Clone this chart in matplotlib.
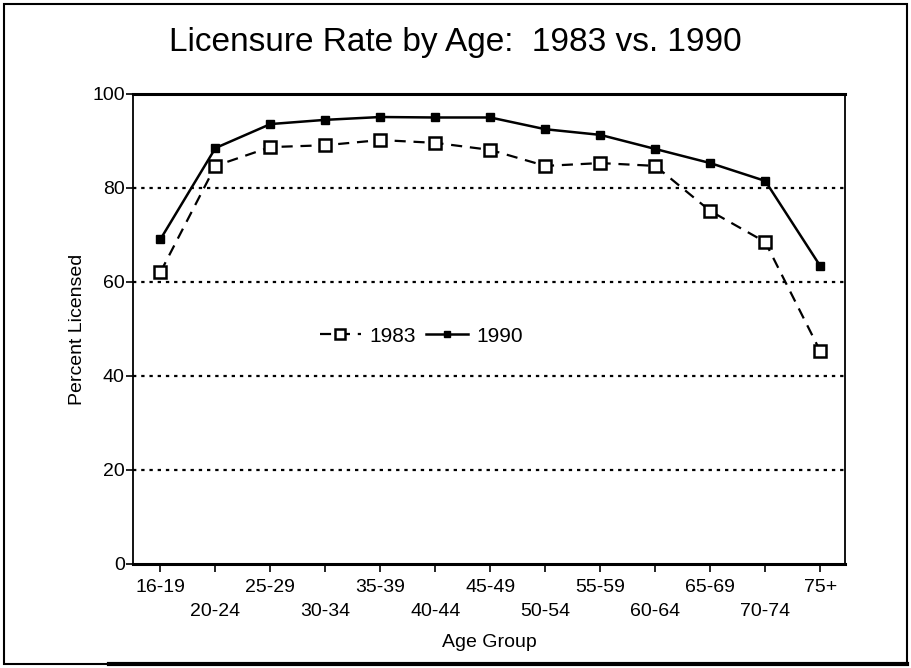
import matplotlib
matplotlib.use("Agg")
import matplotlib.pyplot as plt
from matplotlib.patches import Rectangle
from matplotlib.lines import Line2D

plt.rcParams['font.family'] = ['Liberation Sans Narrow', 'Liberation Sans', 'DejaVu Sans']

age_groups = ["16-19", "20-24", "25-29", "30-34", "35-39", "40-44", "45-49",
              "50-54", "55-59", "60-64", "65-69", "70-74", "75+"]
rate_1983 = [62.1, 84.7, 88.7, 89.1, 90.2, 89.6, 88.1, 84.7, 85.3, 84.7, 75.1, 68.5, 45.3]
rate_1990 = [69.1, 88.5, 93.6, 94.5, 95.1, 95.0, 95.0, 92.5, 91.3, 88.3, 85.3, 81.5, 63.4]
y_ticks = [0, 20, 40, 60, 80, 100]

fig = plt.figure(figsize=(9.12, 6.68), dpi=100)
ax = fig.add_axes([0.1458, 0.1557, 0.7807, 0.7036])

x = list(range(len(age_groups)))
for yv in y_ticks[1:-1]:
    ax.axhline(yv, color='black', lw=1.6, ls=(0, (1.5, 2.2)), zorder=1)

l83, = ax.plot(x, rate_1983, color='black', lw=1.6, ls=(0, (5, 3.5)),
               marker='s', ms=8.5, mfc='white', mec='black', mew=1.8, zorder=3)
l90, = ax.plot(x, rate_1990, color='black', lw=1.8, ls='-',
               marker='s', ms=6, mfc='black', mec='black', zorder=4)

ax.set_xlim(-0.5, 12.45)
ax.set_ylim(0, 100)
ax.set_yticks(y_ticks)
ax.set_yticklabels([str(v) for v in y_ticks], fontsize=14)
ax.set_xticks(x)
labels = [lab if i % 2 == 0 else "\n" + lab for i, lab in enumerate(age_groups)]
ax.set_xticklabels(labels, fontsize=14, linespacing=1.5)
ax.tick_params(axis='x', direction='out', length=6, width=1.2, pad=5)
ax.tick_params(axis='y', direction='out', length=5, width=1.2, pad=1)
for s in ax.spines.values():
    s.set_linewidth(1.3)
ax.spines['top'].set_linewidth(2.2)
ax.spines['bottom'].set_linewidth(2.2)

ax.set_xlabel("Age Group", fontsize=14, labelpad=10)
ax.set_ylabel("Percent Licensed", fontsize=14, labelpad=4)

ax.legend(handles=[l83, l90], labels=["1983", "1990"], loc='center',
          bbox_to_anchor=(0.405, 0.485), ncol=2, frameon=False, fontsize=15,
          handlelength=2.0, columnspacing=0.5, handletextpad=0.4, markerscale=0.8)

fig.text(0.499, 0.937, "Licensure Rate by Age:  1983 vs. 1990", ha='center',
         va='center', fontsize=24)

fig.patches.append(Rectangle((0.004, 0.006), 0.99, 0.988, transform=fig.transFigure,
                             fill=False, lw=1.5, ec='black'))
fig.add_artist(Line2D([0.12, 0.994], [0.006, 0.006], transform=fig.transFigure,
                      color='black', lw=3))

fig.savefig("out.png", dpi=100)
